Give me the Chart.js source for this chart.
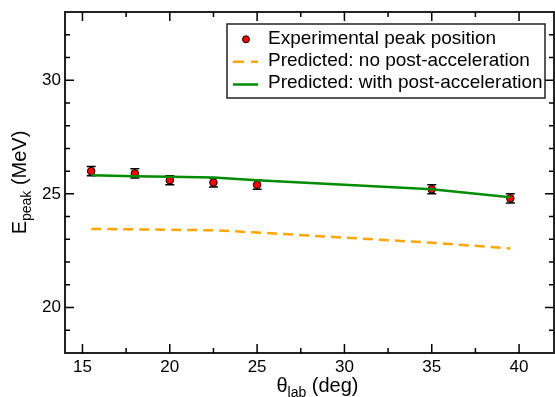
<!DOCTYPE html>
<html>
<head>
<meta charset="utf-8">
<script src="https://cdn.jsdelivr.net/npm/chart.js@4.4.1/dist/chart.umd.min.js"></script>
<style>
  html, body { margin: 0; padding: 0; background: #fff; overflow: hidden; }
  canvas { display: block; }
</style>
</head>
<body>
<canvas id="chart1" width="555" height="397"></canvas>
<script>
// data
const angles = [15.5, 18, 20, 22.5, 25, 35, 39.5];
const expPeak = [26.0, 25.9, 25.6, 25.5, 25.4, 25.2, 24.8];
const expErr = [0.2, 0.2, 0.2, 0.2, 0.2, 0.2, 0.2];
const predNoPost = [23.46, 23.44, 23.42, 23.40, 23.30, 22.85, 22.6];
const predPost = [25.82, 25.78, 25.75, 25.72, 25.6, 25.2, 24.85];

const xTicks = [15, 20, 25, 30, 35, 40];
const yTicks = [20, 25, 30];
const xMinor = [17.5, 22.5, 27.5, 32.5, 37.5];
const yMinor = [19, 21, 22, 23, 24, 26, 27, 28, 29, 31, 32];

const legendLabels = ['Experimental peak position', 'Predicted: no post-acceleration', 'Predicted: with post-acceleration'];

const FONT = "'Liberation Sans', Arial, Helvetica, sans-serif";
const pts = (ys) => angles.map((x, i) => ({ x: x, y: ys[i] }));

// frame, ticks on all four sides, error bars, titles, legend
const decorations = {
  id: 'decorations',
  beforeDatasetsDraw(chart) {
    const ctx = chart.ctx;
    const xs = chart.scales.x, ys = chart.scales.y;
    ctx.save();
    ctx.strokeStyle = '#000';
    ctx.lineWidth = 1.5;
    angles.forEach((a, i) => {
      const px = xs.getPixelForValue(a);
      const top = ys.getPixelForValue(expPeak[i] + expErr[i]);
      const bot = ys.getPixelForValue(expPeak[i] - expErr[i]);
      ctx.beginPath();
      ctx.moveTo(px, top); ctx.lineTo(px, bot);
      ctx.moveTo(px - 4.5, top); ctx.lineTo(px + 4.5, top);
      ctx.moveTo(px - 4.5, bot); ctx.lineTo(px + 4.5, bot);
      ctx.stroke();
    });
    ctx.restore();
  },
  afterDraw(chart) {
    const ctx = chart.ctx;
    const a = chart.chartArea;
    const xs = chart.scales.x, ys = chart.scales.y;
    ctx.save();
    ctx.strokeStyle = '#222';
    ctx.lineWidth = 2;
    ctx.strokeRect(a.left, a.top, a.right - a.left, a.bottom - a.top);

    ctx.lineWidth = 1.5;
    ctx.strokeStyle = '#000';
    ctx.beginPath();
    const tickX = (v, len) => {
      const p = xs.getPixelForValue(v);
      ctx.moveTo(p, a.bottom); ctx.lineTo(p, a.bottom - len);
      ctx.moveTo(p, a.top); ctx.lineTo(p, a.top + len);
    };
    const tickY = (v, len) => {
      const p = ys.getPixelForValue(v);
      ctx.moveTo(a.left, p); ctx.lineTo(a.left + len, p);
      ctx.moveTo(a.right, p); ctx.lineTo(a.right - len, p);
    };
    xTicks.forEach(v => tickX(v, 9));
    xMinor.forEach(v => tickX(v, 5));
    yTicks.forEach(v => tickY(v, 9));
    yMinor.forEach(v => tickY(v, 5));
    ctx.stroke();

    // axis titles with subscripts
    ctx.fillStyle = '#000';
    ctx.textBaseline = 'alphabetic';
    const big = '20px ' + FONT, small = '14px ' + FONT;
    const drawParts = (parts, cx, base) => {
      let w = 0;
      parts.forEach(p => { ctx.font = p[1]; w += ctx.measureText(p[0]).width; });
      let x = cx - w / 2;
      parts.forEach(p => {
        ctx.font = p[1];
        ctx.textAlign = 'left';
        ctx.fillText(p[0], x, base + p[2]);
        x += ctx.measureText(p[0]).width;
      });
    };
    drawParts([['\u03b8', big, 0], ['lab', small, 5], [' (deg)', big, 0]], (a.left + a.right) / 2 + 8, 392);
    ctx.save();
    ctx.translate(26, (a.top + a.bottom) / 2);
    ctx.rotate(-Math.PI / 2);
    drawParts([['E', big, 0], ['peak', small, 5], [' (MeV)', big, 0]], 0, 0);
    ctx.restore();

    // legend box
    const lx = 227, ly = 24, lw = 318, lh = 74;
    ctx.fillStyle = '#fff';
    ctx.fillRect(lx, ly, lw, lh);
    ctx.strokeStyle = '#222';
    ctx.lineWidth = 1.5;
    ctx.strokeRect(lx, ly, lw, lh);
    const rows = [38.5, 61, 83];
    const marks = [39.3, 61.7, 84.5];
    ctx.font = '19px ' + FONT;
    ctx.textBaseline = 'middle';
    ctx.fillStyle = '#000';
    legendLabels.forEach((t, i) => ctx.fillText(t, 268, rows[i]));
    ctx.beginPath();
    ctx.arc(246, marks[0], 3.5, 0, Math.PI * 2);
    ctx.fillStyle = '#ff0000';
    ctx.fill();
    ctx.lineWidth = 1;
    ctx.strokeStyle = '#000';
    ctx.stroke();
    ctx.lineWidth = 2.5;
    ctx.strokeStyle = '#ffa500';
    ctx.setLineDash([11, 7]);
    ctx.beginPath();
    ctx.moveTo(233, marks[1]); ctx.lineTo(258, marks[1]);
    ctx.stroke();
    ctx.setLineDash([]);
    ctx.strokeStyle = '#008c00';
    ctx.beginPath();
    ctx.moveTo(233, marks[2]); ctx.lineTo(258, marks[2]);
    ctx.stroke();
    ctx.restore();
  }
};

const ctx1 = document.getElementById('chart1').getContext('2d');
const chart1 = new Chart(ctx1, {
  type: 'scatter',
  data: {
    datasets: [{
      label: legendLabels[0],
      data: pts(expPeak),
      pointRadius: 3.8,
      pointBackgroundColor: '#ff0000',
      pointBorderColor: '#000',
      pointBorderWidth: 1,
      order: 3
    }, {
      label: legendLabels[1],
      data: pts(predNoPost),
      showLine: true,
      pointRadius: 0,
      borderColor: '#ffa500',
      borderWidth: 2.5,
      borderDash: [10, 6],
      order: 2
    }, {
      label: legendLabels[2],
      data: pts(predPost),
      showLine: true,
      pointRadius: 0,
      borderColor: '#008c00',
      borderWidth: 2.5,
      order: 1
    }]
  },
  options: {
    responsive: false,
    animation: false,
    layout: { autoPadding: false, padding: { top: 12, right: 1, left: 0, bottom: 0 } },
    plugins: { legend: { display: false }, tooltip: { enabled: false } },
    scales: {
      x: {
        type: 'linear',
        min: 14,
        max: 42,
        afterBuildTicks: (s) => { s.ticks = xTicks.map(v => ({ value: v })); },
        afterFit: (s) => { s.height = 44; s.paddingLeft = 0; s.paddingRight = 0; },
        grid: { display: false, drawTicks: false },
        border: { display: false },
        ticks: { color: '#000', padding: 4, maxRotation: 0, font: { family: FONT, size: 17 } }
      },
      y: {
        type: 'linear',
        min: 18,
        max: 33,
        afterBuildTicks: (s) => { s.ticks = yTicks.map(v => ({ value: v })); },
        afterFit: (s) => { s.width = 65; s.paddingTop = 0; s.paddingBottom = 0; },
        grid: { display: false, drawTicks: false },
        border: { display: false },
        ticks: { color: '#000', padding: 4, font: { family: FONT, size: 17 } }
      }
    }
  },
  plugins: [decorations]
});
</script>
</body>
</html>
